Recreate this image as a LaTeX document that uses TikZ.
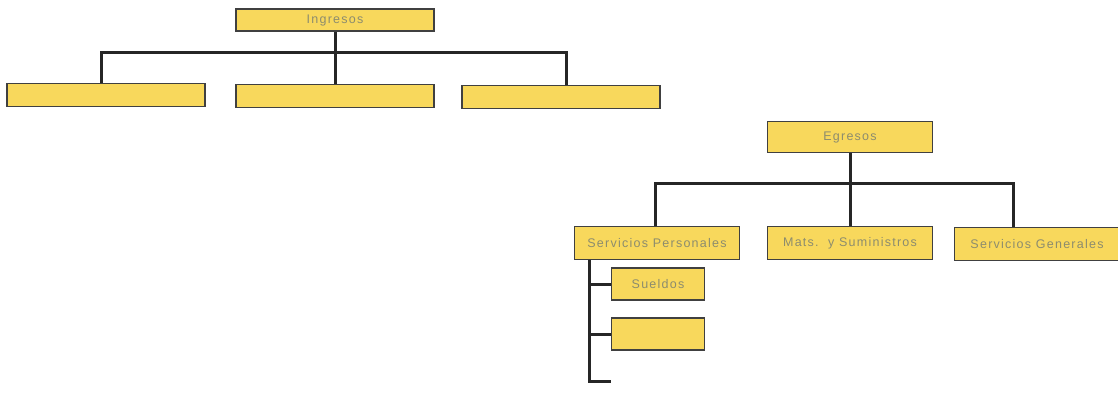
\documentclass[tikz,border=0pt]{standalone}
\usepackage{fontspec}
\setmainfont{Liberation Sans}[LetterSpace=10]
\usetikzlibrary{calc}
\definecolor{boxfill}{RGB}{248,216,92}
\definecolor{boxtext}{RGB}{140,140,110}

\begin{document}
\begin{tikzpicture}[x=1pt,y=-1pt,
    box/.style={draw=black!75,line width=1.8pt,fill=boxfill,inner sep=0pt,
      minimum width=198pt,minimum height=23pt,font=\fontsize{12.5}{14}\selectfont,
      text=boxtext},
    ebox/.style={box,minimum width=165pt,minimum height=33pt},
    link/.style={line width=3pt,black!85}]
  \useasboundingbox[fill=white] (0,0) rectangle (1118,392);
  % Ingresos
  \node[box,minimum height=22pt] (ing) at (335,20) {Ingresos};
  \node[box] (ingA) at (106,95) {};
  \node[box] (ingB) at (335,96) {};
  \node[box] (ingC) at (561,97) {};
  \coordinate (jI) at (335,52);
  \draw[link] (ing.south) -- (ingB.north);
  \draw[link] ([xshift=-5]ingA.north) -- ([xshift=-5]ingA.north |- jI)
    -- ([xshift=5]ingC.north |- jI) -- ([xshift=5]ingC.north);
  % Egresos
  \node[ebox,minimum height=31pt] (egr) at (850,137) {Egresos};
  \node[ebox] (sp) at (657,243) {Servicios Personales};
  \node[ebox] (mys) at (850,243) {Mats.\ \ y Suministros};
  \node[ebox] (sg) at (1037,244) {Servicios Generales};
  \coordinate (jE) at (850,183);
  \coordinate (jG) at (1013,183);
  \draw[link] (egr.south) -- (mys.north);
  \draw[link] ([xshift=-2]sp.north) -- ([xshift=-2]sp.north |- jE) -- (jG) -- (jG |- sg.north);
  % Servicios Personales
  \node[box,minimum width=93pt,minimum height=32pt] (sue) at (658,284) {Sueldos};
  \node[box,minimum width=93pt,minimum height=32pt] (spB) at (658,334) {};
  \coordinate (tail) at (611,381);
  \draw[link] ([xshift=16]sp.south west) |- (tail);
  \draw[link] (sue.west) -- ++(-21,0);
  \draw[link] (spB.west) -- ++(-21,0);
\end{tikzpicture}
\end{document}
